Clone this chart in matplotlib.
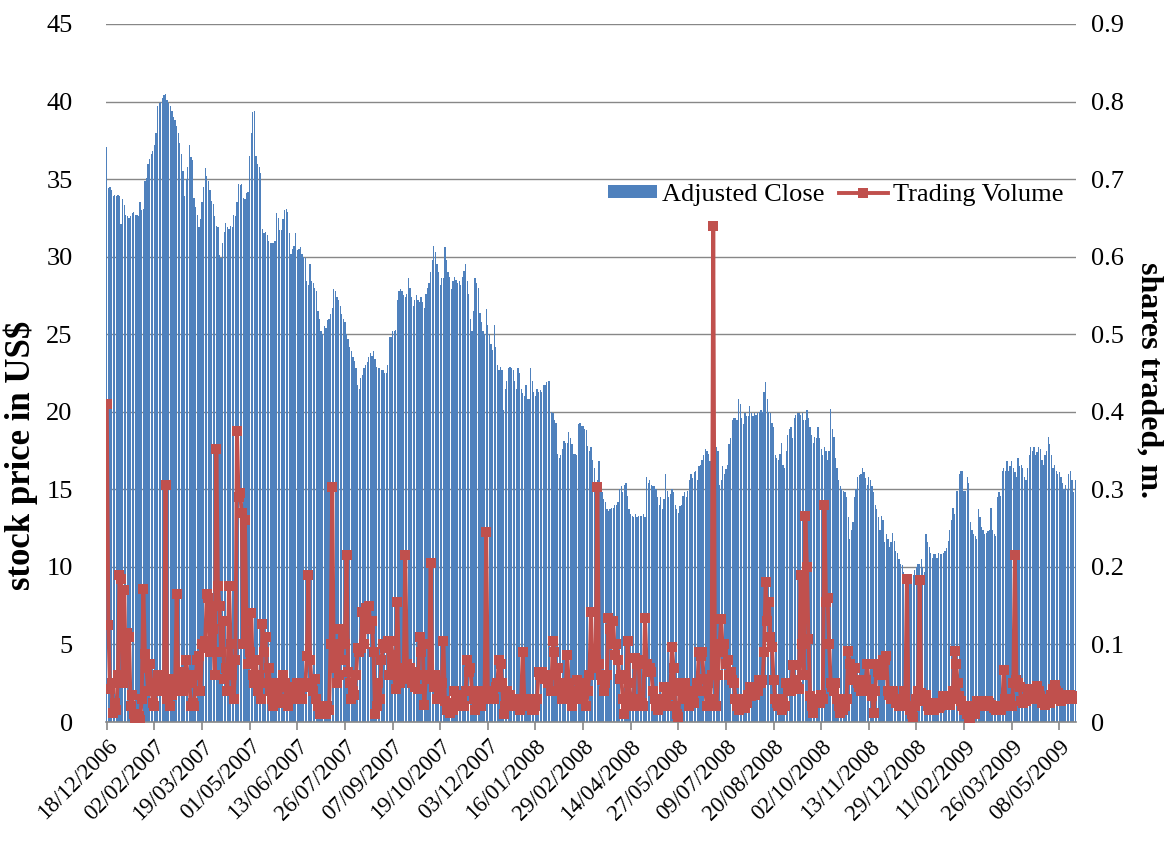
import matplotlib
matplotlib.use("Agg")
import matplotlib.pyplot as plt
from matplotlib.lines import Line2D
from matplotlib.patches import Patch

# ---------------- data ----------------
tick_labels = ["18/12/2006", "02/02/2007", "19/03/2007", "01/05/2007", "13/06/2007",
               "26/07/2007", "07/09/2007", "19/10/2007", "03/12/2007", "16/01/2008",
               "29/02/2008", "14/04/2008", "27/05/2008", "09/07/2008", "20/08/2008",
               "02/10/2008", "13/11/2008", "29/12/2008", "11/02/2009", "26/03/2009",
               "08/05/2009"]
tick_every = 30  # trading days between labelled dates

adjusted_close = [
    37.1, 34.4, 34.5, 34.3, 33.9, 34.0, 33.9, 34.0, 33.9, 32.1,
    33.7, 33.3, 32.7, 32.6, 32.5, 32.6, 32.8, 32.9, 32.7, 32.7,
    32.6, 33.5, 33.0, 33.1, 34.9, 35.1, 36.0, 36.3, 36.6, 36.8,
    37.2, 38.0, 39.7, 39.9, 40.0, 40.2, 40.4, 40.5, 40.1, 39.9,
    39.7, 39.4, 39.0, 38.8, 38.4, 38.0, 37.3, 36.6, 35.5, 33.9,
    35.0, 35.8, 37.2, 36.4, 36.2, 33.8, 33.2, 32.7, 31.9, 32.4,
    33.5, 34.5, 35.7, 35.2, 34.9, 34.3, 33.6, 33.4, 32.6, 32.0,
    31.9, 30.1, 29.9, 30.9, 31.6, 32.2, 31.9, 31.8, 32.0, 31.9,
    32.7, 32.6, 33.5, 34.7, 34.6, 34.7, 33.8, 33.7, 34.1, 34.2,
    36.5, 38.0, 39.3, 39.4, 36.5, 36.0, 35.8, 35.4, 31.8, 31.5,
    31.6, 31.4, 31.0, 30.9, 30.9, 30.9, 31.0, 32.8, 32.5, 31.7,
    31.7, 32.4, 33.0, 33.1, 32.9, 31.5, 30.2, 30.5, 30.7, 31.5,
    30.4, 30.5, 30.6, 30.2, 30.0, 29.9, 28.4, 28.2, 29.5, 28.4,
    28.3, 28.0, 27.8, 26.5, 26.0, 25.2, 25.0, 25.5, 25.4, 25.9,
    26.0, 26.3, 26.7, 27.9, 27.8, 27.4, 27.2, 26.8, 26.3, 26.0,
    25.8, 25.0, 24.7, 24.2, 23.9, 23.5, 23.3, 22.8, 21.7, 21.5,
    22.2, 22.4, 22.8, 23.0, 23.2, 23.5, 23.8, 23.6, 23.9, 23.4,
    22.9, 22.8, 22.8, 22.7, 22.7, 22.5, 22.5, 23.0, 24.8, 24.8,
    25.2, 25.2, 25.3, 27.2, 27.8, 27.9, 27.8, 27.5, 27.4, 27.6,
    28.6, 28.0, 27.4, 26.8, 27.2, 27.5, 27.2, 27.1, 27.4, 27.1,
    26.7, 27.6, 28.0, 28.3, 29.0, 29.8, 30.7, 30.3, 29.5, 29.0,
    28.2, 28.6, 28.6, 30.6, 29.8, 29.0, 28.7, 27.9, 28.4, 28.7,
    28.5, 28.3, 28.4, 28.2, 28.7, 29.1, 29.5, 28.4, 27.6, 26.0,
    25.2, 26.5, 28.6, 28.3, 28.0, 26.4, 25.8, 25.2, 25.0, 26.6,
    25.6, 25.0, 24.4, 24.0, 25.6, 24.2, 23.0, 22.7, 22.9, 22.7,
    20.1, 21.5, 22.0, 22.8, 22.9, 22.8, 22.7, 22.0, 21.5, 22.8,
    22.5, 21.5, 21.2, 21.0, 21.7, 20.8, 20.8, 22.8, 22.0, 21.3,
    21.0, 21.5, 21.3, 21.4, 21.3, 21.7, 21.7, 21.9, 22.0, 22.0,
    20.0, 19.9, 19.5, 19.3, 17.3, 17.0, 17.2, 17.6, 18.1, 18.0,
    18.0, 18.7, 18.3, 17.9, 17.3, 17.3, 17.2, 19.2, 19.3, 19.1,
    19.1, 18.9, 18.8, 17.8, 17.5, 17.7, 16.9, 16.4, 15.3, 15.6,
    16.8, 15.2, 14.8, 14.4, 14.2, 13.7, 13.6, 13.7, 13.8, 13.8,
    14.0, 14.0, 14.2, 15.0, 15.2, 14.8, 15.3, 15.4, 14.6, 13.7,
    13.4, 13.3, 13.2, 13.4, 13.2, 13.3, 13.3, 13.3, 13.4, 13.2,
    15.8, 15.4, 15.6, 15.3, 15.2, 15.2, 15.0, 14.5, 14.0, 14.5,
    13.7, 14.4, 16.0, 14.9, 14.5, 14.7, 15.0, 14.8, 14.0, 13.7,
    13.5, 13.9, 14.0, 14.6, 14.8, 14.5, 14.9, 15.6, 16.0, 15.7,
    16.1, 16.2, 15.6, 16.5, 16.6, 16.9, 17.2, 17.6, 17.5, 17.3,
    16.8, 16.9, 16.4, 16.0, 17.7, 17.5, 15.3, 15.6, 16.5, 16.0,
    16.3, 16.6, 17.9, 18.3, 19.5, 19.6, 19.6, 19.5, 20.8, 20.5,
    19.6, 19.2, 19.9, 19.7, 19.7, 20.4, 19.9, 19.7, 19.9, 19.8,
    19.9, 20.0, 20.1, 20.0, 21.3, 21.9, 20.8, 20.0, 19.9, 19.3,
    19.0, 17.2, 17.0, 16.9, 17.3, 18.0, 16.6, 16.4, 17.5, 18.5,
    18.9, 19.0, 18.3, 19.6, 19.8, 19.9, 19.9, 19.8, 19.9, 19.5,
    19.5, 20.1, 19.6, 19.0, 18.5, 18.0, 18.4, 18.3, 19.0, 18.3,
    17.6, 17.2, 17.7, 17.5, 16.9, 17.5, 20.2, 18.9, 18.4, 17.0,
    16.4, 15.6, 15.2, 15.0, 14.9, 14.8, 14.5, 13.2, 11.8, 12.4,
    12.9, 14.5, 15.0, 15.8, 15.9, 16.0, 16.4, 16.1, 15.7, 15.3,
    15.8, 15.6, 15.2, 14.8, 14.0, 13.7, 13.2, 12.4, 13.3, 13.0,
    11.6, 12.1, 11.8, 11.3, 11.6, 12.2, 11.7, 11.0, 10.9, 10.5,
    10.2, 10.1, 9.7, 9.5, 9.3, 9.1, 9.4, 9.5, 9.5, 9.8,
    10.0, 10.2, 10.2, 10.5, 10.0, 9.7, 12.1, 11.6, 11.3, 10.9,
    10.6, 10.8, 10.8, 10.6, 10.9, 10.8, 10.8, 10.9, 11.0, 11.2,
    11.7, 12.4, 13.0, 13.8, 13.4, 14.9, 14.9, 16.0, 16.2, 16.2,
    14.9, 14.9, 15.8, 15.4, 12.9, 12.4, 12.1, 12.0, 11.8, 13.7,
    13.2, 12.6, 12.4, 12.1, 12.2, 12.3, 12.4, 13.8, 12.4, 12.1,
    12.0, 14.5, 14.8, 14.6, 16.2, 16.4, 16.2, 16.8, 16.2, 16.5,
    16.8, 16.4, 16.1, 15.8, 17.0, 16.5, 16.6, 16.4, 15.8, 15.6,
    16.4, 17.2, 17.7, 17.5, 17.7, 17.2, 17.4, 17.7, 17.6, 16.9,
    16.6, 17.2, 17.5, 18.4, 17.9, 17.2, 16.4, 16.6, 16.2, 16.0,
    16.1, 15.8, 15.4, 15.0, 15.3, 15.0, 16.0, 16.2, 15.6, 14.8, 15.6,
]

trading_volume = [
    0.41, 0.125, 0.042, 0.05, 0.012, 0.025, 0.015, 0.06, 0.19, 0.185,
    0.05, 0.17, 0.06, 0.115, 0.11, 0.02, 0.035, 0.01, 0.005, 0.0,
    0.008, 0.002, 0.03, 0.172, 0.088, 0.07, 0.04, 0.075, 0.05, 0.025,
    0.02, 0.045, 0.06, 0.05, 0.055, 0.04, 0.045, 0.305, 0.03, 0.05,
    0.02, 0.035, 0.055, 0.04, 0.165, 0.05, 0.065, 0.06, 0.04, 0.055,
    0.08, 0.06, 0.05, 0.02, 0.025, 0.02, 0.06, 0.08, 0.085, 0.04,
    0.1, 0.095, 0.105, 0.165, 0.16, 0.09, 0.15, 0.12, 0.06, 0.352,
    0.175, 0.15, 0.09, 0.13, 0.055, 0.07, 0.04, 0.175, 0.1, 0.06,
    0.03, 0.08, 0.375, 0.29, 0.295, 0.27, 0.1, 0.26, 0.13, 0.075,
    0.09, 0.14, 0.06, 0.05, 0.08, 0.04, 0.06, 0.03, 0.126, 0.09,
    0.11, 0.05, 0.07, 0.04, 0.03, 0.02, 0.035, 0.05, 0.025, 0.03,
    0.045, 0.06, 0.05, 0.03, 0.02, 0.04, 0.035, 0.045, 0.03, 0.04,
    0.05, 0.035, 0.04, 0.03, 0.05, 0.045, 0.085, 0.19, 0.08, 0.05,
    0.04, 0.055, 0.03, 0.02, 0.01, 0.015, 0.02, 0.012, 0.01, 0.02,
    0.015, 0.1, 0.303, 0.07, 0.1, 0.05, 0.06, 0.12, 0.08, 0.12,
    0.1, 0.215, 0.065, 0.05, 0.03, 0.04, 0.035, 0.06, 0.095, 0.09,
    0.095, 0.142, 0.1, 0.147, 0.13, 0.15, 0.12, 0.13, 0.09, 0.01,
    0.02, 0.05, 0.03, 0.08, 0.1, 0.095, 0.1, 0.105, 0.06, 0.105,
    0.086, 0.06, 0.043, 0.155, 0.07, 0.05, 0.065, 0.055, 0.215, 0.075,
    0.06, 0.07, 0.05, 0.065, 0.045, 0.06, 0.043, 0.11, 0.09, 0.1,
    0.022, 0.06, 0.055, 0.06, 0.205, 0.06, 0.045, 0.06, 0.03, 0.04,
    0.035, 0.05, 0.105, 0.027, 0.015, 0.02, 0.011, 0.025, 0.015, 0.04,
    0.03, 0.025, 0.02, 0.035, 0.03, 0.02, 0.04, 0.08, 0.065, 0.07,
    0.04, 0.03, 0.016, 0.025, 0.04, 0.03, 0.02, 0.03, 0.04, 0.245,
    0.04, 0.03, 0.035, 0.04, 0.03, 0.045, 0.05, 0.08, 0.075, 0.05,
    0.01, 0.02, 0.04, 0.03, 0.035, 0.02, 0.03, 0.025, 0.02, 0.027,
    0.016, 0.03, 0.09, 0.027, 0.02, 0.03, 0.025, 0.02, 0.015, 0.016,
    0.02, 0.03, 0.065, 0.06, 0.065, 0.06, 0.055, 0.06, 0.05, 0.06,
    0.04, 0.105, 0.09, 0.06, 0.07, 0.05, 0.04, 0.03, 0.05, 0.04,
    0.086, 0.05, 0.03, 0.02, 0.04, 0.03, 0.054, 0.04, 0.033, 0.05,
    0.03, 0.05, 0.02, 0.04, 0.06, 0.142, 0.075, 0.07, 0.08, 0.303,
    0.075, 0.06, 0.054, 0.04, 0.05, 0.06, 0.134, 0.12, 0.1, 0.13,
    0.086, 0.1, 0.08, 0.055, 0.06, 0.03, 0.01, 0.02, 0.105, 0.05,
    0.03, 0.02, 0.03, 0.083, 0.075, 0.08, 0.02, 0.025, 0.02, 0.134,
    0.075, 0.065, 0.07, 0.065, 0.04, 0.03, 0.02, 0.016, 0.03, 0.025,
    0.02, 0.045, 0.03, 0.02, 0.035, 0.04, 0.097, 0.07, 0.02, 0.01,
    0.006, 0.05, 0.04, 0.045, 0.05, 0.03, 0.04, 0.02, 0.035, 0.03,
    0.025, 0.04, 0.05, 0.09, 0.085, 0.09, 0.055, 0.04, 0.02, 0.05,
    0.03, 0.06, 0.64, 0.09, 0.02, 0.06, 0.1, 0.133, 0.09, 0.1,
    0.075, 0.08, 0.06, 0.065, 0.054, 0.05, 0.03, 0.02, 0.016, 0.025,
    0.02, 0.03, 0.018, 0.025, 0.035, 0.045, 0.033, 0.04, 0.035, 0.045,
    0.04, 0.054, 0.05, 0.054, 0.09, 0.18, 0.13, 0.155, 0.11, 0.097,
    0.054, 0.03, 0.025, 0.02, 0.03, 0.016, 0.025, 0.02, 0.05, 0.04,
    0.045, 0.04, 0.073, 0.05, 0.054, 0.045, 0.043, 0.19, 0.1, 0.06,
    0.265, 0.2, 0.107, 0.033, 0.02, 0.011, 0.025, 0.03, 0.03, 0.025,
    0.035, 0.03, 0.28, 0.155, 0.16, 0.1, 0.05, 0.045, 0.04, 0.05,
    0.03, 0.02, 0.011, 0.025, 0.015, 0.02, 0.03, 0.092, 0.075, 0.06,
    0.054, 0.07, 0.054, 0.05, 0.045, 0.04, 0.05, 0.045, 0.054, 0.075,
    0.043, 0.04, 0.033, 0.011, 0.04, 0.075, 0.065, 0.07, 0.06, 0.08,
    0.08, 0.085, 0.04, 0.035, 0.03, 0.04, 0.03, 0.025, 0.03, 0.02,
    0.025, 0.03, 0.04, 0.035, 0.185, 0.02, 0.015, 0.01, 0.006, 0.02,
    0.03, 0.04, 0.183, 0.038, 0.03, 0.027, 0.035, 0.02, 0.016, 0.02,
    0.025, 0.016, 0.02, 0.022, 0.018, 0.02, 0.025, 0.033, 0.022, 0.03,
    0.025, 0.022, 0.03, 0.04, 0.092, 0.075, 0.05, 0.033, 0.027, 0.02,
    0.016, 0.02, 0.01, 0.0, 0.005, 0.02, 0.015, 0.01, 0.027, 0.025,
    0.022, 0.027, 0.02, 0.025, 0.022, 0.027, 0.025, 0.022, 0.02, 0.018,
    0.016, 0.02, 0.018, 0.016, 0.02, 0.067, 0.03, 0.02, 0.025, 0.03,
    0.02, 0.05, 0.215, 0.054, 0.05, 0.045, 0.027, 0.025, 0.03, 0.027,
    0.035, 0.043, 0.033, 0.04, 0.035, 0.03, 0.046, 0.04, 0.033, 0.025,
    0.03, 0.022, 0.028, 0.03, 0.025, 0.035, 0.043, 0.048, 0.04, 0.038,
    0.03, 0.027, 0.033, 0.03, 0.035, 0.033, 0.03, 0.035, 0.03, 0.033, 0.032,
]

n = min(len(adjusted_close), len(trading_volume))
adjusted_close = adjusted_close[:n]
trading_volume = trading_volume[:n]
x = list(range(n))

# ---------------- styling ----------------
BLUE = "#4F81BD"
RED = "#C0504D"
GRID = "#878787"
SERIF = ["Liberation Serif", "DejaVu Serif"]
plt.rcParams["font.family"] = SERIF

W, H = 1168, 855
fig = plt.figure(figsize=(W / 100, H / 100), dpi=100)
px_left, px_right, px_top, px_bottom = 106.0, 1076.0, 24.0, 722.0
ax = fig.add_axes([px_left / W, 1 - px_bottom / H,
                   (px_right - px_left) / W, (px_bottom - px_top) / H])

ax.bar(x, adjusted_close, width=0.8, color=BLUE, linewidth=0,
       antialiased=False, zorder=2)
ax.set_ylim(0, 45)
ax.set_yticks(range(0, 46, 5))
ax.set_xlim(-0.5, n - 0.5)
ax.grid(axis="y", color=GRID, linewidth=1.0, zorder=0)
ax.set_axisbelow(True)
for s in ("top", "left", "right"):
    ax.spines[s].set_visible(False)
ax.spines["bottom"].set_color(GRID)
ax.spines["bottom"].set_linewidth(1.2)

ticks = [i * tick_every for i in range(len(tick_labels))]
ax.set_xticks(ticks)
ax.set_xticklabels(tick_labels, rotation=45, ha="right", rotation_mode="anchor",
                   fontsize=16.5)
ax.tick_params(axis="x", direction="out", length=6, width=1.2, color=GRID, pad=4)
ax.tick_params(axis="y", length=0, pad=24, labelsize=19)

ax2 = ax.twinx()
ax2.plot(x, trading_volume, color=RED, linewidth=2.8, marker="s", markersize=6.5,
         markeredgewidth=0, zorder=3)
ax2.set_ylim(0, 0.9)
ax2.set_yticks([i / 10 for i in range(10)])
ax2.set_yticklabels(["0"] + [f"{i / 10:.1f}" for i in range(1, 10)])
ax2.tick_params(axis="y", length=0, pad=11, labelsize=19)
for s in ("top", "left", "right", "bottom"):
    ax2.spines[s].set_visible(False)

# axis titles
fig.text(21 / W, 1 - 455 / H, "stock price in US$", rotation=90, ha="center",
         va="center", fontsize=25, fontweight="bold")
fig.text(1149 / W, 1 - 380 / H, "shares traded, m.", rotation=270, ha="center",
         va="center", fontsize=23, fontweight="bold")

handles = [Patch(facecolor=BLUE, edgecolor="none"),
           Line2D([0], [0], color=RED, linewidth=2.8, marker="s", markersize=6.5,
                  markeredgewidth=0)]
leg = ax2.legend(handles, ["Adjusted Close", "Trading Volume"], loc="center right",
                 bbox_to_anchor=(0.987, 0.755), ncol=2, frameon=False, fontsize=19,
                 handlelength=1.85, handleheight=0.4, handletextpad=0.2,
                 columnspacing=0.55, borderaxespad=0, borderpad=0)

fig.savefig("out.png", dpi=100)
